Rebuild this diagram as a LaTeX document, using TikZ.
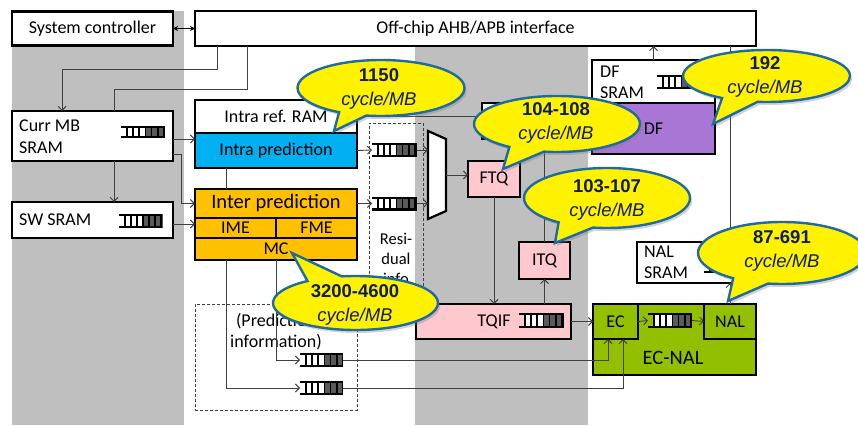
\documentclass[tikz,border=0pt]{standalone}
\usepackage{fontspec}
\setmainfont{Carlito}
\newfontfamily\bubblefont{Liberation Sans}
\usetikzlibrary{arrows.meta,shapes.callouts,shadows,calc}
\definecolor{bandgray}{RGB}{191,191,191}
\definecolor{intrablue}{RGB}{0,176,240}
\definecolor{interorange}{RGB}{255,192,0}
\definecolor{qpink}{RGB}{255,199,206}
\definecolor{dfpurple}{RGB}{168,118,212}
\definecolor{ecgreen}{RGB}{146,192,0}
\definecolor{linegray}{RGB}{64,64,64}
\definecolor{bubbleblue}{RGB}{31,106,160}
\definecolor{bubbletext}{RGB}{16,30,84}
\definecolor{fifogray}{RGB}{90,90,90}
\newcommand\mainsz{\fontsize{18}{22}\selectfont}
\newcommand\bigsz{\fontsize{20.5}{24}\selectfont}
\newcommand\smallsz{\fontsize{16.5}{20}\selectfont}
\begin{document}
\begin{tikzpicture}[x=1pt,y=-1pt,
  box/.style={draw=black, line width=2.2pt, inner sep=0pt, outer sep=0pt, fill=white},
  lbl/.style={inner sep=0pt, font=\mainsz},
  conn/.style={draw=linegray, line width=0.9pt},
  arr/.style={conn, -{Straight Barb[length=4pt,width=8pt]}},
  dbox/.style={draw=linegray, dash pattern=on 3pt off 2pt, line width=0.8pt, inner sep=0pt, outer sep=0pt},
  fifo/.style={minimum width=44pt, minimum height=14pt, inner sep=0pt, outer sep=0pt, path picture={
     \fill[black] ([xshift=5pt]path picture bounding box.south west) rectangle (path picture bounding box.north east);
     \fill[black] (path picture bounding box.north west) rectangle ([xshift=5pt,yshift=-2.2pt]path picture bounding box.north west);
     \fill[black] (path picture bounding box.south west) rectangle ([xshift=5pt,yshift=2.2pt]path picture bounding box.south west);
     \foreach \i/\c in {0/white,1/white,2/white,3/fifogray,4/fifogray,5/fifogray}
       \fill[\c] ([xshift={7pt+\i*6.1pt},yshift=2.2pt]path picture bounding box.south west) rectangle ([xshift={11.3pt+\i*6.1pt},yshift=-2.2pt]path picture bounding box.north west);
  }},
  bubble/.style={ellipse callout, draw=bubbleblue, line width=2.4pt, fill=yellow, inner sep=0pt, callout pointer arc=26,
     drop shadow={shadow xshift=2pt, shadow yshift=-3pt, opacity=0.35}},
  btext/.style={align=center, text=bubbletext, font=\bubblefont\fontsize{18.5}{24}\selectfont, inner sep=0pt}
]
\useasboundingbox (0,0) rectangle (858,425);
\clip (0,0) rectangle (858,425);
% gray bands
\fill[bandgray] (12,11) rectangle (184,425);
\fill[bandgray] (415,11) rectangle (588,425);

% boxes
\node[box, font=\mainsz, minimum width=161pt, minimum height=34pt] (sys) at (92.5,28.5) {System controller};
\node[box, font=\mainsz, minimum width=561pt, minimum height=35pt] (iface) at (475.5,28.5) {Off-chip AHB/APB interface};
\node[box, minimum width=161pt, minimum height=50pt] (currmb) at (92.5,136) {};
\node[lbl, anchor=west, align=left] (currmbtxt) at (19,137) {Curr MB\\SRAM};
\node[fifo, minimum height=12pt] (qcur) at (143,132) {};
\node[box, minimum width=161pt, minimum height=36pt] (sw) at (92.5,220) {};
\node[lbl, anchor=west] (swtxt) at (19,220) {SW SRAM};
\node[fifo] (qsw) at (140.5,221) {};

\node[box, font=\mainsz, minimum width=162pt, minimum height=33pt] (intraram) at (276,116.5) {Intra ref. RAM};
\node[box, fill=intrablue, font=\mainsz, minimum width=162pt, minimum height=35pt] (intrap) at (276,150.5) {Intra prediction};
\node[box, fill=interorange, font=\bigsz, minimum width=162pt, minimum height=29pt] (intert) at (276,203.5) {Inter prediction};
\node[box, fill=interorange, font=\mainsz, minimum width=81pt, minimum height=20pt] (ime) at (235.5,228) {IME};
\node[box, fill=interorange, font=\mainsz, minimum width=81pt, minimum height=20pt] (fme) at (316.5,228) {FME};
\node[box, fill=interorange, font=\mainsz, minimum width=162pt, minimum height=22pt] (mc) at (276,249) {MC};

\node[dbox, minimum width=54pt, minimum height=199pt] (resbox) at (396,222.5) {};
\node[lbl, font=\smallsz, align=center] (restxt) at (396,259) {Resi-\\dual\\info};
\node[dbox, minimum width=162pt, minimum height=106pt] (predbox) at (276,357) {};
\node[lbl, align=center, font=\fontsize{18}{21}\selectfont] (predtxt) at (276,331.5) {(Prediction\\information)};

\node[fifo, minimum width=45pt] (q1) at (394.5,150) {};
\node[fifo, minimum width=45pt] (q2) at (394.5,203.5) {};
\node[fifo, minimum width=43pt] (q4) at (321.5,360) {};
\node[fifo, minimum width=43pt] (q5) at (321.5,388) {};

\node[minimum width=18pt, minimum height=88pt, inner sep=0pt, outer sep=0pt] (mux) at (437,175) {};
\draw[line width=2.2pt, fill=white] (mux.north west) -- ([yshift=-8pt]mux.north east) -- ([yshift=8pt]mux.south east) -- (mux.south west) -- cycle;

\node[box, fill=qpink, font=\mainsz, minimum width=52pt, minimum height=36pt] (ftq) at (494,179) {FTQ};
\node[box, fill=qpink, font=\mainsz, minimum width=51pt, minimum height=37pt] (itq) at (544.5,260.5) {ITQ};
\node[box, fill=qpink, minimum width=155pt, minimum height=35pt] (tqif) at (493.5,321.5) {};
\node[lbl] (tqiftxt) at (494,322) {TQIF};
\node[fifo, minimum width=45pt, minimum height=15pt] (qt) at (541.5,320.5) {};
\node[box, minimum width=93pt, minimum height=36pt] (hb) at (528.5,121) {};

\node[box, minimum width=123pt, minimum height=43pt] (dfsram) at (653.5,81.5) {};
\node[lbl, anchor=west, align=left, font=\fontsize{18}{21}\selectfont] (dfsramtxt) at (600,82.5) {DF\\SRAM};
\node[fifo] (qdf) at (679,82) {};
\node[box, fill=dfpurple, font=\mainsz, minimum width=123pt, minimum height=51pt] (df) at (653.5,128.5) {DF};

\node[box, minimum width=115pt, minimum height=41pt] (nalsram) at (694.5,262.5) {};
\node[lbl, anchor=west, align=left, font=\fontsize{18}{21}\selectfont] (nalsramtxt) at (644,262.5) {NAL\\SRAM};
\node[fifo, minimum width=43pt, minimum height=12pt] (qnal) at (725,267) {};

\node[box, fill=ecgreen, minimum width=163pt, minimum height=71pt] (ecnal) at (674.5,339.5) {};
\node[lbl, font=\bigsz] (ecnaltxt) at (673,358) {EC-NAL};
\node[box, fill=ecgreen, font=\mainsz, minimum width=45pt, minimum height=35pt] (ec) at (615.5,321.5) {EC};
\node[box, fill=ecgreen, font=\mainsz, minimum width=52pt, minimum height=35pt] (nal) at (730,321.5) {NAL};
\node[fifo, minimum height=15pt] (q6) at (670,320.5) {};

% connectors
\draw[{Stealth[length=5pt,width=5pt]}-{Stealth[length=5pt,width=5pt]}, line width=1.3pt] (sys.east) -- (iface.west);
\draw[arr] ([xshift=22pt]iface.south west) -- ++(0,23) -| ([xshift=-30.5pt]currmb.north);
\draw[conn] ([xshift=52pt]iface.south west) -- ++(0,43) -| ([xshift=21.5pt]currmb.north);
\draw[arr] ([yshift=-3pt]currmb.east) -- ([yshift=-3pt]currmb.east -| intrap.west);
\draw[arr] ([yshift=-18pt]currmb.east) -- ++(8,0) |- (intert.west);
\draw[arr] ([xshift=21.5pt]currmb.south) -- ([xshift=21.5pt]currmb.south |- sw.north);
\draw[arr] ([yshift=-4pt]sw.east) -- ([yshift=-4pt]sw.east -| ime.west);
\draw[conn] ([xshift=-50pt]intrap.south) -- ([xshift=-50pt]intrap.south |- intert.north);
\draw[arr] (intrap.east) -- (q1.west);
\draw[arr] (intert.east) -- (q2.west);
\draw[arr] (q1.east) -- (q1.east -| mux.west);
\draw[arr] (q2.east) -- (q2.east -| mux.west);
\draw[arr] (mux.east) -- (mux.east -| ftq.west);
\draw[conn] (intraram.east) -- (intraram.east -| hb.west);
\draw[arr] (ftq.south) -- (ftq.south |- tqif.north);
\draw[arr] (itq.south |- tqif.north) -- (itq.south);
\draw[conn] (itq.north) -- (itq.north |- hb.south);
\draw[arr] (tqif.east) -- (ec.west);
\draw[arr] ([xshift=-50pt]mc.south) |- (q5.west);
\draw[arr] (mc.south) |- (q4.west);
\draw[arr] (q4.east) -| ([xshift=-7.5pt]ec.south);
\draw[arr] (q5.east) -| ([xshift=7.5pt]ec.south);
\draw[arr] (ec.east) -- (q6.west);
\draw[arr] (q6.east) -- (nal.west);
\draw[arr] (nal.north) -- (nal.north |- nalsram.south);
\draw[conn] (nal.north |- iface.south) -- (nal.north |- nalsram.north);
\draw[arr] (dfsram.north) -- (dfsram.north |- iface.south);

% bubbles
\node[bubble, callout pointer arc=20, minimum width=167pt, minimum height=56pt, callout absolute pointer={(334,131)}] (b1) at (381,88) {};
\node[btext] (b1t) at (379,89) {\textbf{1150}\\\textit{cycle/MB}};
\node[bubble, minimum width=166pt, minimum height=56pt, callout absolute pointer={(503,169)}] (b2) at (557,124) {};
\node[btext] (b2t) at (556,123) {\textbf{104-108}\\\textit{cycle/MB}};
\node[bubble, minimum width=167pt, minimum height=52pt, callout absolute pointer={(713,124)}] (b3) at (766.5,76) {};
\node[btext] (b3t) at (765,77) {\textbf{192}\\\textit{cycle/MB}};
\node[bubble, minimum width=166pt, minimum height=60pt, callout absolute pointer={(555,243)}] (b4) at (607,198) {};
\node[btext] (b4t) at (607,199.5) {\textbf{103-107}\\\textit{cycle/MB}};
\node[bubble, minimum width=168pt, minimum height=62pt, callout absolute pointer={(728,301)}] (b5) at (782,253) {};
\node[btext] (b5t) at (782,251) {\textbf{87-691}\\\textit{cycle/MB}};
\node[bubble, minimum width=165pt, minimum height=54pt, callout absolute pointer={(292,253)}] (b6) at (355.5,303) {};
\node[btext] (b6t) at (355,304.5) {\textbf{3200-4600}\\\textit{cycle/MB}};
\end{tikzpicture}
\end{document}
